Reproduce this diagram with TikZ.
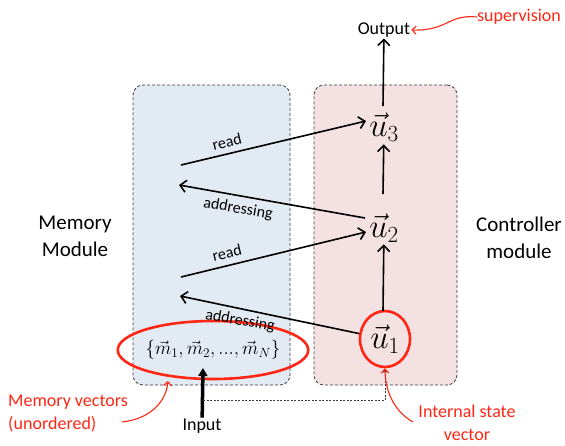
\RequirePackage{fix-cm}
\documentclass[tikz,border=0pt]{standalone}
\usepackage{fontspec}
\setmainfont{Carlito}
\usetikzlibrary{arrows.meta,shapes.geometric}
\definecolor{memblue}{RGB}{226,234,244}
\definecolor{ctrlpink}{RGB}{244,225,225}
\definecolor{annred}{RGB}{255,38,20}
\definecolor{boxline}{RGB}{60,60,60}
\begin{document}
\begin{tikzpicture}[x=1pt,y=-1pt,
  modbox/.style={draw=boxline, dash pattern=on 3pt off 2pt, rounded corners=10pt, line width=0.8pt, minimum height=300pt},
  flow/.style={-{Straight Barb[length=6pt,width=12pt]}, line width=1.6pt},
  ann/.style={annred, line width=1.1pt, -{Straight Barb[length=4pt,width=8pt]}},
  lbl/.style={font=\fontsize{16}{18}\selectfont, inner sep=1pt},
  big/.style={font=\fontsize{21}{27}\selectfont, align=center, inner sep=0pt},
  redtxt/.style={text=annred, font=\fontsize{18}{23}\selectfont, inner sep=0pt},
  vecnode/.style={font=\fontsize{33}{35}\selectfont, inner sep=1pt}]
\useasboundingbox (0,0) rectangle (565,445);

% module boxes
\node[modbox, fill=memblue, minimum width=157pt] (membox) at (211.5,235) {};
\node[modbox, fill=ctrlpink, minimum width=143pt] (ctrlbox) at (385.5,235) {};

% side labels
\node[big] (memlbl) at (75,236) {Memory\\Module};
\node[big] (ctrllbl) at (519,238) {Controller\\module};

% controller states
\node[vecnode] (u3) at (384,127) {$\vec{u}_3$};
\node[vecnode] (u2) at (384,228) {$\vec{u}_2$};
\node[ellipse, draw=annred, line width=2.6pt, minimum width=50pt, minimum height=56pt, inner sep=0pt, font=\fontsize{33}{35}\selectfont] (u1) at (385,339) {$\vec{u}_1$};

% output
\node[font=\fontsize{18}{20}\selectfont, inner sep=1pt] (out) at (384,30) {Output};
\coordinate (u3top) at (383,106);
\coordinate (u2top) at (383,194);
\coordinate (u1top) at (383,311);
\draw[flow] (u3top) -- (out);
\draw[flow, shorten >=2pt] (u2top) -- (u3);
\draw[flow, shorten >=1pt] (u1top) -- (u2);

% memory set
\node[ellipse, draw=annred, line width=2.6pt, minimum width=176pt, minimum height=58pt, inner sep=0pt, font=\fontsize{19}{21}\selectfont] (mset) at (213,350) {$\{\vec{m}_1,\vec{m}_2,...,\vec{m}_N\}$};

% read / addressing arrows
\coordinate (rd1) at (181,165);
\coordinate (rd1end) at (366,121);
\coordinate (ad1) at (179,185);
\coordinate (ad1start) at (365,218);
\coordinate (rd2) at (181,277);
\coordinate (rd2end) at (366,232);
\coordinate (ad2) at (180,296);
\draw[flow] (rd1) -- (rd1end);
\draw[flow] (ad1start) -- (ad1);
\draw[flow] (rd2) -- (rd2end);
\draw[flow] (u1) -- (ad2);
\node[lbl, rotate=13.4] (read1) at (227,142) {read};
\node[lbl, rotate=-10] (addr1) at (238,209) {addressing};
\node[lbl, rotate=-10] (addr2) at (240,321) {addressing};
\node[lbl, rotate=13.4] (read2) at (227,253) {read};

% input
\node[font=\fontsize{18}{20}\selectfont, inner sep=1pt] (inp) at (202,426) {Input};
\coordinate (intip) at (203,368);
\draw[line width=3.5pt, -{Triangle[length=8pt,width=9pt]}] (inp) -- (intip);
\coordinate (split) at (203,400);
\draw[boxline, line width=0.9pt, dash pattern=on 2pt off 1.5pt, -{Triangle[length=4pt,width=4pt]}] (split) -| (u1);

% annotations
\node[redtxt, anchor=west] (sup) at (477,17) {supervision};
\draw[ann] (sup.west) .. controls (448,14) and (448,31) .. (out.east);
\node[redtxt, align=left, anchor=west] (mvec) at (8,413) {Memory vectors\\(unordered)};
\coordinate (mvecstart) at (122,422);
\coordinate (mvecend) at (168,381);
\draw[ann] (mvecstart) .. controls (150,419) and (166,402) .. (mvecend);
\node[redtxt, align=center] (isv) at (467,423) {Internal state\\vector};
\coordinate (isvstart) at (413,422);
\draw[ann] (isvstart) .. controls (395,412) and (385,392) .. (u1);
\end{tikzpicture}
\end{document}
